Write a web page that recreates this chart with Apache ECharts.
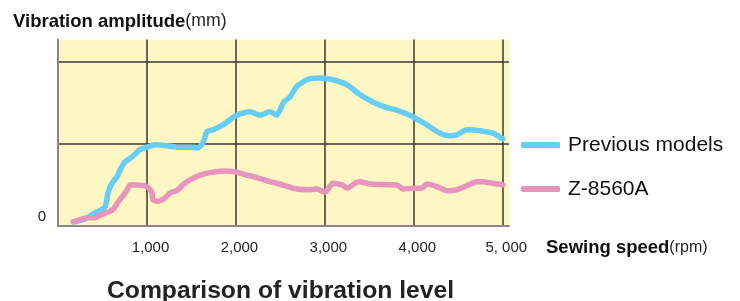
<!DOCTYPE html>
<html><head><meta charset="utf-8">
<script src="https://cdn.jsdelivr.net/npm/echarts@6/dist/echarts.min.js"></script>
<style>html,body{margin:0;padding:0;background:#fff}#c{width:740px;height:301px}</style>
</head><body><div id="c"></div>
<script>
var xTickLabels = ['', '1,000', '2,000', '3,000', '4,000', '5, 000'];
var seriesNames = ['Previous models', 'Z-8560A'];
var previousModels = [
  [191,0.05],[303,0.085],[416,0.16],[528,0.23],[562,0.40],[607,0.52],[663,0.60],[697,0.68],
  [753,0.78],[831,0.84],[921,0.93],[1000,0.96],[1090,0.99],[1202,0.98],[1337,0.96],[1483,0.96],
  [1573,0.95],[1629,1.01],[1674,1.15],[1742,1.17],[1854,1.23],[2011,1.35],[2157,1.39],[2270,1.35],
  [2382,1.39],[2461,1.35],[2494,1.41],[2539,1.51],[2607,1.57],[2685,1.70],[2798,1.78],[2944,1.80],
  [3090,1.78],[3247,1.72],[3393,1.60],[3539,1.51],[3697,1.44],[3809,1.41],[3989,1.33],[4146,1.23],
  [4292,1.13],[4404,1.10],[4483,1.11],[4596,1.17],[4742,1.16],[4888,1.13],[5000,1.06]
];
var z8560A = [
  [169,0.05],[337,0.10],[416,0.10],[472,0.13],[562,0.17],[618,0.20],[674,0.29],[719,0.35],
  [753,0.40],[787,0.46],[809,0.50],[888,0.50],[1000,0.48],[1056,0.41],[1067,0.32],[1124,0.30],
  [1202,0.34],[1258,0.40],[1337,0.43],[1404,0.50],[1483,0.56],[1596,0.62],[1708,0.65],[1854,0.67],
  [1989,0.66],[2124,0.62],[2236,0.59],[2382,0.54],[2528,0.50],[2640,0.46],[2798,0.44],[2910,0.45],
  [3000,0.41],[3090,0.52],[3191,0.50],[3258,0.46],[3337,0.52],[3393,0.54],[3506,0.51],[3809,0.50],
  [3876,0.45],[3989,0.46],[4090,0.46],[4146,0.51],[4258,0.48],[4371,0.43],[4483,0.44],[4596,0.49],
  [4708,0.54],[4775,0.54],[4888,0.52],[5000,0.50]
];

var FONT = '"Liberation Sans", Arial, sans-serif';
var chart = echarts.init(document.getElementById('c'), null, {renderer: 'canvas'});
chart.setOption({
  animation: false,
  textStyle: {fontFamily: FONT},
  title: [
    {
      text: '{b|Vibration amplitude}{n|(mm)}',
      left: 13, top: 12, padding: 0,
      textStyle: {rich: {
        b: {fontFamily: FONT, fontWeight: 'bold', fontSize: 18.5, color: '#111'},
        n: {fontFamily: FONT, fontWeight: 'normal', fontSize: 17.7, color: '#222'}
      }}
    },
    {
      text: 'Comparison of vibration level',
      left: 107, top: 279, padding: 0,
      textStyle: {fontFamily: FONT, fontWeight: 'bold', fontSize: 24.7, color: '#222'}
    }
  ],
  legend: {
    orient: 'vertical', left: 521, top: 134, padding: 0,
    itemWidth: 39, itemHeight: 6, itemGap: 22,
    icon: 'roundRect',
    data: seriesNames,
    textStyle: {fontFamily: FONT, fontSize: 21, lineHeight: 22, color: '#111', padding: [0,0,0,3]}
  },
  grid: {left: 58, right: 231, top: 39.5, bottom: 75, show: true, backgroundColor: '#fef7c3', borderWidth: 0},
  xAxis: {
    type: 'value', min: 0, max: 5070, interval: 1000,
    name: '{b|Sewing speed}{n|(rpm)}',
    nameLocation: 'end', nameGap: 37,
    nameTextStyle: {verticalAlign: 'top', padding: [12,0,0,0], rich: {
      b: {fontFamily: FONT, fontWeight: 'bold', fontSize: 18.5, color: '#111'},
      n: {fontFamily: FONT, fontWeight: 'normal', fontSize: 16, color: '#222'}
    }},
    axisLine: {show: true, lineStyle: {color: '#888', width: 2}},
    axisTick: {show: false},
    axisLabel: {
      margin: 14, fontSize: 15, color: '#222', padding: [0,0,0,7],
      formatter: function (v) { var i = Math.round(v / 1000); return (v % 1000 === 0 && xTickLabels[i] !== undefined) ? xTickLabels[i] : ''; }
    },
    splitLine: {show: true, showMinLine: false, showMaxLine: false, lineStyle: {color: '#3a3a30', width: 1.5}}
  },
  yAxis: {
    type: 'value', min: 0, max: 2.27, interval: 1,
    axisLine: {show: true, lineStyle: {color: '#888', width: 2}},
    axisTick: {show: false},
    axisLabel: {
      margin: 12, fontSize: 15, color: '#222', verticalAlign: 'bottom', padding: [0,0,2,0],
      formatter: function (v) { return v === 0 ? '0' : ''; }
    },
    splitLine: {show: true, showMinLine: false, showMaxLine: false, lineStyle: {color: '#3a3a30', width: 1.5}}
  },
  series: [
    {
      name: seriesNames[0], type: 'line', data: previousModels, symbol: 'none', smooth: 0.2,
      itemStyle: {color: '#66cdf5'},
      lineStyle: {color: '#66cdf5', width: 5.5, cap: 'round', join: 'round'}
    },
    {
      name: seriesNames[1], type: 'line', data: z8560A, symbol: 'none', smooth: 0.2,
      itemStyle: {color: '#e895be'},
      lineStyle: {color: '#e895be', width: 5.5, cap: 'round', join: 'round'}
    }
  ]
});
</script></body></html>
